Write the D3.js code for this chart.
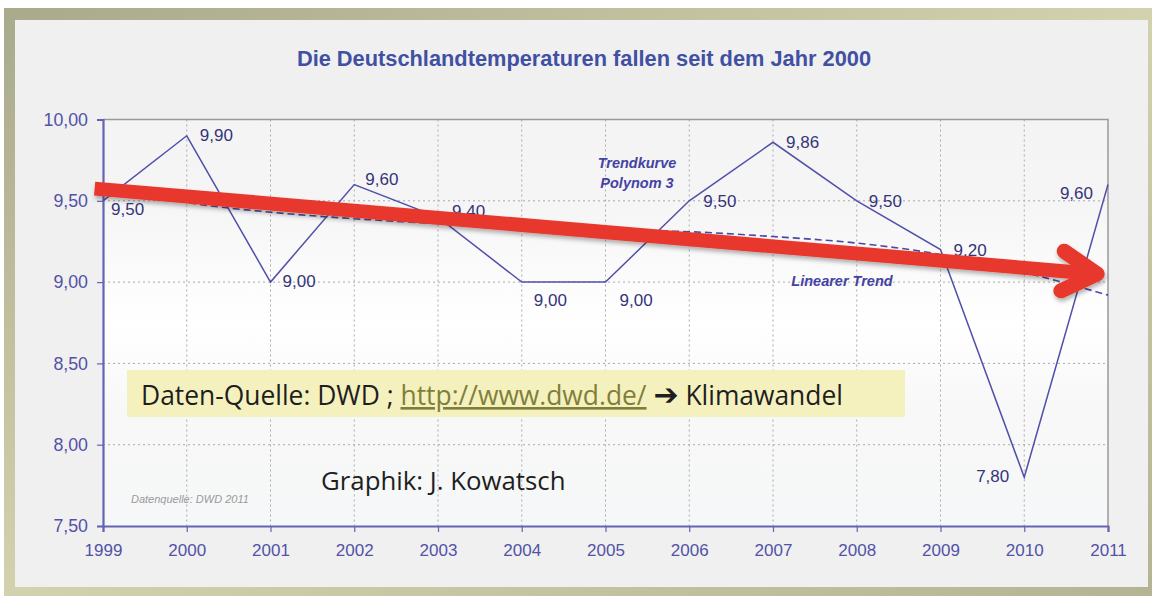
<!DOCTYPE html>
<html>
<head>
<meta charset="utf-8">
<script src="https://cdn.jsdelivr.net/npm/d3@7"></script>
<style>
  html, body { margin: 0; padding: 0; background: #fff; }
  svg { display: block; font-family: "Liberation Sans", Arial, sans-serif; }
</style>
</head>
<body>
<svg id="chart" width="1152" height="596"></svg>
<script>
// Daten (DWD Jahresmittel Deutschland)
const years = [1999, 2000, 2001, 2002, 2003, 2004, 2005, 2006, 2007, 2008, 2009, 2010, 2011];
const temps = [9.50, 9.90, 9.00, 9.60, 9.40, 9.00, 9.00, 9.50, 9.86, 9.50, 9.20, 7.80, 9.60];
// Trendkurve Polynom 3
const trendPoly = [9.60, 9.49, 9.43, 9.39, 9.36, 9.34, 9.32, 9.31, 9.28, 9.24, 9.17, 9.06, 8.92];
const yTicks = [7.5, 8.0, 8.5, 9.0, 9.5, 10.0];
// roter Pfeil: Start und Spitze (Jahr, Temperatur)
const arrowFrom = [1998.9, 9.575];
const arrowTo   = [2010.87, 9.05];

const W = 1152, H = 596;
const svg = d3.select('#chart');
const fmt = v => d3.format('.2f')(v).replace('.', ',');

// Rahmen / Hintergrund
const defs = svg.append('defs');
const frameGrad = defs.append('linearGradient').attr('id', 'frame')
  .attr('x1', 0).attr('y1', 0).attr('x2', 1).attr('y2', 1);
frameGrad.append('stop').attr('offset', '0%').attr('stop-color', '#a9a98c');
frameGrad.append('stop').attr('offset', '50%').attr('stop-color', '#d3d2ae');
frameGrad.append('stop').attr('offset', '100%').attr('stop-color', '#b4b393');

const plotGrad = defs.append('linearGradient').attr('id', 'plotbg')
  .attr('x1', 0).attr('y1', 0).attr('x2', 0).attr('y2', 1);
[['0%', '#f4f4f4'], ['20%', '#f6f5f5'], ['38%', '#fbfbfb'], ['50%', '#ffffff'],
 ['70%', '#f8f8f8'], ['100%', '#f6f7f8']].forEach(([o, c]) =>
  plotGrad.append('stop').attr('offset', o).attr('stop-color', c));

const shadow = defs.append('filter').attr('id', 'shadow')
  .attr('x', '-5%').attr('y', '-50%').attr('width', '110%').attr('height', '200%');
shadow.append('feDropShadow').attr('dx', 1).attr('dy', 3).attr('stdDeviation', 2)
  .attr('flood-color', '#000').attr('flood-opacity', 0.3);

svg.append('rect').attr('x', 4).attr('y', 8).attr('width', W - 4).attr('height', H - 8)
  .attr('fill', 'url(#frame)');
svg.append('rect').attr('x', 15).attr('y', 20).attr('width', 1133).attr('height', 567)
  .attr('fill', '#f0f0f0');

// Skalen
const x = d3.scaleLinear().domain([1999, 2011]).range([103, 1108]);
const y = d3.scaleLinear().domain([7.5, 10]).range([526, 119.5]);

svg.append('rect').attr('x', x(1999)).attr('y', y(10))
  .attr('width', x(2011) - x(1999)).attr('height', y(7.5) - y(10))
  .attr('fill', 'url(#plotbg)');

// Titel
svg.append('text').attr('x', 584).attr('y', 66).attr('text-anchor', 'middle')
  .attr('font-size', 21.8).attr('font-weight', 'bold').attr('fill', '#4150a3')
  .text('Die Deutschlandtemperaturen fallen seit dem Jahr 2000');

// Gitter
const grid = svg.append('g').attr('stroke', '#aaa').attr('stroke-width', 1)
  .attr('stroke-dasharray', '2,3');
grid.selectAll('line.v').data(years.slice(1, -1)).join('line')
  .attr('x1', d => x(d)).attr('x2', d => x(d)).attr('y1', y(10)).attr('y2', y(7.5));
grid.selectAll('line.h').data(yTicks.slice(1, -1)).join('line')
  .attr('x1', x(1999)).attr('x2', x(2011)).attr('y1', d => y(d)).attr('y2', d => y(d));

// Rahmen oben/rechts grau
svg.append('path')
  .attr('d', `M${x(1999)},${y(10)}H${x(2011)}V${y(7.5)}`)
  .attr('fill', 'none').attr('stroke', '#999').attr('stroke-width', 1.5);

// Achsen
const yAxis = svg.append('g').attr('transform', `translate(${x(1999)},0)`)
  .call(d3.axisLeft(y).tickValues(yTicks).tickFormat(fmt).tickSize(6).tickPadding(9));
const xAxis = svg.append('g').attr('transform', `translate(0,${y(7.5)})`)
  .call(d3.axisBottom(x).tickValues(years).tickFormat(d3.format('d')).tickSize(6).tickPadding(12));
[yAxis, xAxis].forEach(g => {
  g.select('.domain').attr('stroke', '#6464b4').attr('stroke-width', 2.2);
  g.selectAll('.tick line').attr('stroke', '#6464b4').attr('stroke-width', 1.2);
  g.selectAll('.tick text').attr('fill', '#5252a8').attr('font-size', 17.8)
    .attr('font-family', '"Liberation Sans", Arial, sans-serif');
});
xAxis.selectAll('.tick text').attr('font-size', 17);

// kleine Quelle
svg.append('text').attr('x', 131).attr('y', 503).attr('font-size', 11)
  .attr('font-style', 'italic').attr('fill', '#9a9a9a').text('Datenquelle: DWD 2011');

// gelbe Box
svg.append('rect').attr('x', 127).attr('y', 370).attr('width', 778).attr('height', 47)
  .attr('fill', '#f5f1bf');
const src = svg.append('text').attr('x', 141).attr('y', 405)
  .attr('font-family', '"Open Sans", "Noto Sans", sans-serif').attr('font-size', 26.4)
  .attr('fill', '#1e1e1e');
src.append('tspan').text('Daten-Quelle: DWD ; ');
src.append('tspan').attr('fill', '#7f7f3a').attr('text-decoration', 'underline')
  .text('http://www.dwd.de/');
src.append('tspan').text(' ');
src.append('tspan').attr('font-family', '"DejaVu Sans", sans-serif').attr('font-weight', 'bold')
  .attr('font-size', 30).text('➔');
src.append('tspan').text(' Klimawandel');

svg.append('text').attr('x', 321).attr('y', 490)
  .attr('font-family', '"Open Sans", "Noto Sans", sans-serif').attr('font-size', 25.8)
  .attr('fill', '#1e1e1e').text('Graphik: J. Kowatsch');

// Trendkurve
svg.append('path').datum(trendPoly)
  .attr('d', d3.line().x((d, i) => x(years[i])).y(d => y(d)).curve(d3.curveMonotoneX))
  .attr('fill', 'none').attr('stroke', '#4a4aa4').attr('stroke-width', 1.6)
  .attr('stroke-dasharray', '7,4');

// Datenlinie
svg.append('path').datum(temps)
  .attr('d', d3.line().x((d, i) => x(years[i])).y(d => y(d)))
  .attr('fill', 'none').attr('stroke', '#5050aa').attr('stroke-width', 1.5);

// Beschriftung der Werte
const labelOff = [[8, 14, 'start'], [13, 5, 'start'], [12, 5, 'start'], [11, 0, 'start'],
  [14, 0, 'start'], [12, 24, 'start'], [14, 24, 'start'], [14, 6, 'start'], [13, 6, 'start'],
  [12, 6, 'start'], [13, 6, 'start'], [-15, 5, 'end'], [-15, 14, 'end']];
svg.append('g').selectAll('text').data(temps).join('text')
  .attr('x', (d, i) => x(years[i]) + labelOff[i][0])
  .attr('y', (d, i) => y(d) + labelOff[i][1])
  .attr('text-anchor', (d, i) => labelOff[i][2])
  .attr('font-size', 17).attr('fill', '#34347a')
  .text(d => fmt(d));

// Legendentexte
const noteStyle = t => t.attr('font-size', 14.5).attr('font-weight', 'bold')
  .attr('font-style', 'italic').attr('fill', '#4343a3').attr('text-anchor', 'middle');
svg.append('text').attr('x', 637).attr('y', 168).call(noteStyle).text('Trendkurve');
svg.append('text').attr('x', 637).attr('y', 188).call(noteStyle).text('Polynom 3');
svg.append('text').attr('x', 842).attr('y', 286).call(noteStyle).text('Linearer Trend');

// roter Pfeil
const ax0 = x(arrowFrom[0]), ay0 = y(arrowFrom[1]);
const ax1 = x(arrowTo[0]), ay1 = y(arrowTo[1]);
const ang = Math.atan2(ay1 - ay0, ax1 - ax0);
const headLen = 40, headAng = 0.52;
const h1 = [ax1 - headLen * Math.cos(ang - headAng), ay1 - headLen * Math.sin(ang - headAng)];
const h2 = [ax1 - headLen * Math.cos(ang + headAng), ay1 - headLen * Math.sin(ang + headAng)];
const arrow = svg.append('g').attr('filter', 'url(#shadow)')
  .attr('fill', 'none').attr('stroke', '#e8392d');
arrow.append('line').attr('x1', ax0).attr('y1', ay0).attr('x2', ax1 - 4).attr('y2', ay1 - 0.3)
  .attr('stroke-width', 14);
arrow.append('path')
  .attr('d', `M${h1[0]},${h1[1]}L${ax1},${ay1}L${h2[0]},${h2[1]}`)
  .attr('stroke-width', 15).attr('stroke-linecap', 'round').attr('stroke-linejoin', 'round');
</script>
</body>
</html>
